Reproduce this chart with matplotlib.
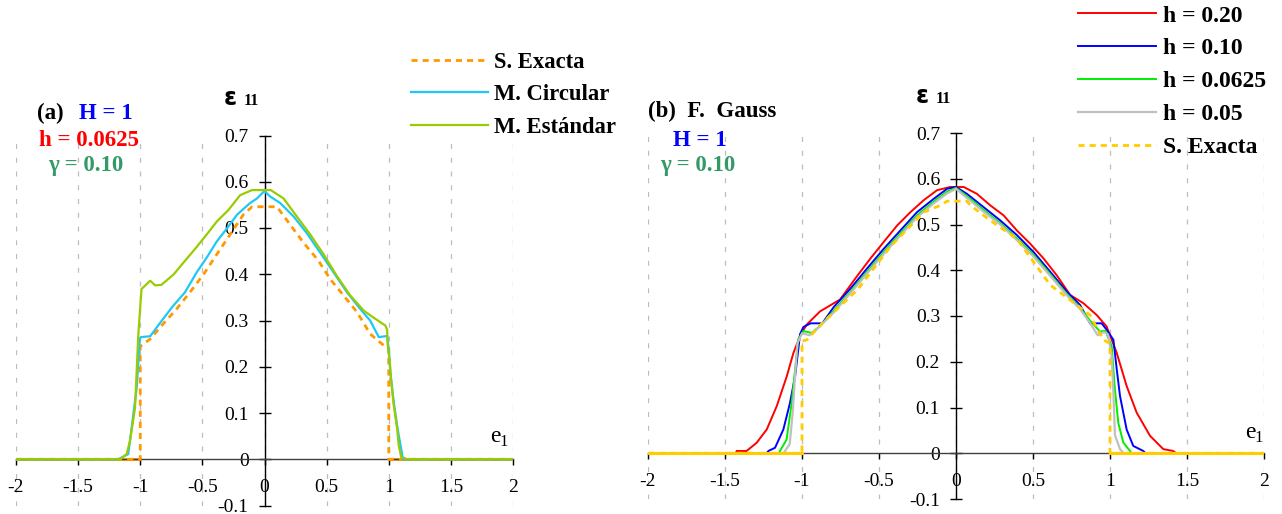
import numpy as np
import matplotlib
matplotlib.use("Agg")
import matplotlib.pyplot as plt

plt.rcParams['font.family'] = ['Liberation Serif', 'DejaVu Serif']
plt.rcParams['axes.unicode_minus'] = False

W, H = 1282, 514

# ---------------- data: panel (a) ----------------
exact_a_x = [-2, -1.0, -1.0, -0.92, -0.815, -0.707, -0.6, -0.49, -0.384, -0.277, -0.17, -0.1, 0.1, 0.207,
             0.315, 0.435, 0.53, 0.637, 0.745, 0.85, 0.96, 1.0, 1.0, 2]
exact_a_y = [0, 0, 0.244, 0.26, 0.293, 0.325, 0.361, 0.40, 0.443, 0.486, 0.529, 0.546, 0.546, 0.507,
             0.468, 0.429, 0.389, 0.354, 0.318, 0.271, 0.246, 0.24, 0, 0]

circ_a_x = [-2, -1.177, -1.097, -1.069, -1.029, -1.003, -0.995, -0.92, -0.895, -0.815, -0.734, -0.64, -0.546,
            -0.465, -0.384, -0.30, -0.22, -0.116, -0.06, 0, 0.046, 0.126, 0.234, 0.34, 0.45, 0.556, 0.664,
            0.77, 0.85, 0.92, 0.973, 0.987, 1.0, 1.013, 1.04, 1.067, 1.08, 1.115, 2]
circ_a_y = [0, 0, 0.011, 0.068, 0.154, 0.261, 0.264, 0.266, 0.275, 0.304, 0.332, 0.361, 0.404,
            0.436, 0.471, 0.50, 0.529, 0.554, 0.564, 0.58, 0.568, 0.554, 0.525, 0.489, 0.446, 0.404, 0.361,
            0.325, 0.30, 0.264, 0.266, 0.267, 0.238, 0.189, 0.124, 0.074, 0.052, 0.0, 0]

std_a_x = [-2, -1.163, -1.11, -1.083, -1.042, -1.016, -0.99, -0.92, -0.88, -0.83, -0.73, -0.64, -0.546,
           -0.465, -0.384, -0.29, -0.196, -0.10, 0.05, 0.153, 0.26, 0.368, 0.476, 0.583, 0.69, 0.80, 0.89,
           0.973, 0.987, 0.992, 1.008, 1.02, 1.04, 1.067, 1.08, 1.10, 1.15, 2]
std_a_y = [0, 0, 0.011, 0.039, 0.111, 0.268, 0.368, 0.386, 0.376, 0.377, 0.40, 0.429, 0.459,
           0.486, 0.514, 0.539, 0.571, 0.582, 0.582, 0.564, 0.525, 0.486, 0.443, 0.396, 0.354, 0.321, 0.304,
           0.289, 0.28, 0.246, 0.21, 0.167, 0.117, 0.067, 0.03, 0.005, 0, 0]

# ---------------- data: panel (b) ----------------
h20_x = [-2, -1.43, -1.424, -1.36, -1.294, -1.229, -1.164, -1.099, -1.056, -1.013, -0.97, -0.883, -0.753, -0.645,
         -0.555, -0.469, -0.382, -0.296, -0.21, -0.123, -0.037, 0.05, 0.136, 0.222, 0.309, 0.395, 0.482,
         0.568, 0.654, 0.741, 0.827, 0.914, 0.978, 1.044, 1.108, 1.173, 1.26, 1.346, 1.41, 1.43, 2]
h20_y = [0, 0, 0.005, 0.005, 0.023, 0.052, 0.103, 0.168, 0.219, 0.256, 0.281, 0.31, 0.336, 0.386,
         0.426, 0.462, 0.498, 0.527, 0.553, 0.575, 0.582, 0.582, 0.567, 0.542, 0.52, 0.487, 0.458,
         0.426, 0.389, 0.346, 0.328, 0.302, 0.277, 0.219, 0.147, 0.089, 0.038, 0.009, 0.005, 0, 0]

h10_x = [-2, -1.23, -1.218, -1.175, -1.121, -1.078, -1.045, -1.024, -1.013, -0.991, -0.944, -0.868, -0.793, -0.685,
         -0.577, -0.469, -0.361, -0.253, -0.145, -0.058, 0, 0.071, 0.179, 0.287, 0.395, 0.503, 0.611,
         0.72, 0.806, 0.87, 0.946, 0.978, 1.022, 1.044, 1.065, 1.108, 1.151, 1.216, 1.23, 2]
h10_y = [0, 0, 0.005, 0.012, 0.052, 0.11, 0.168, 0.227, 0.26, 0.276, 0.284, 0.284, 0.32, 0.36,
         0.404, 0.447, 0.487, 0.527, 0.556, 0.578, 0.582, 0.567, 0.538, 0.509, 0.477, 0.44, 0.397,
         0.353, 0.324, 0.284, 0.284, 0.27, 0.248, 0.183, 0.125, 0.052, 0.016, 0.005, 0, 0]

h0625_x = [-2, -1.15, -1.143, -1.1, -1.067, -1.045, -1.024, -0.991, -0.937, -0.883, -0.793, -0.685, -0.577,
           -0.469, -0.361, -0.253, -0.145, -0.058, 0, 0.071, 0.179, 0.287, 0.395, 0.503, 0.611, 0.72,
           0.806, 0.87, 0.935, 0.97, 1.011, 1.032, 1.054, 1.087, 1.13, 1.14, 2]
h0625_y = [0, 0, 0.005, 0.03, 0.11, 0.183, 0.249, 0.267, 0.263, 0.278, 0.312, 0.353, 0.397,
           0.44, 0.48, 0.52, 0.55, 0.572, 0.58, 0.562, 0.532, 0.503, 0.47, 0.434, 0.392, 0.348,
           0.318, 0.29, 0.266, 0.268, 0.234, 0.139, 0.066, 0.023, 0.005, 0, 0]

h05_x = [-2, -1.12, -1.11, -1.08, -1.06, -1.045, -1.03, -1.0, -0.95, -0.9, -0.793, -0.685, -0.577, -0.469,
         -0.361, -0.253, -0.145, -0.058, 0, 0.071, 0.179, 0.287, 0.395, 0.503, 0.611, 0.72, 0.806,
         0.87, 0.92, 0.96, 0.987, 1.011, 1.02, 1.032, 1.065, 1.09, 2]
h05_y = [0, 0, 0.005, 0.02, 0.09, 0.17, 0.24, 0.262, 0.258, 0.272, 0.308, 0.35, 0.393, 0.436,
         0.476, 0.516, 0.546, 0.568, 0.578, 0.558, 0.528, 0.5, 0.466, 0.43, 0.388, 0.345, 0.315,
         0.285, 0.258, 0.265, 0.26, 0.212, 0.15, 0.04, 0.009, 0, 0]

exact_b_x = [-2, -1, -1, -0.968, -0.87, -0.641, -0.425, -0.21, -0.1, -0.058, 0.071, 0.093, 0.222, 0.395,
             0.611, 0.741, 0.87, 0.957, 1.0, 1.0, 2]
exact_b_y = [0, 0, 0.245, 0.248, 0.284, 0.357, 0.452, 0.527, 0.542, 0.551, 0.551, 0.542, 0.509, 0.469,
             0.368, 0.335, 0.302, 0.248, 0.24, 0, 0]

xticks = [-2, -1.5, -1, -0.5, 0, 0.5, 1, 1.5, 2]
xticklabels = ['-2', '-1.5', '-1', '-0.5', '0', '0.5', '1', '1.5', '2']
yticks = [-0.1, 0, 0.1, 0.2, 0.3, 0.4, 0.5, 0.6, 0.7]
yticklabels = ['-0.1', '0', '0.1', '0.2', '0.3', '0.4', '0.5', '0.6', '0.7']

legend_a = ['S. Exacta', 'M. Circular', 'M. Estándar']
legend_b = ['h = 0.20', 'h = 0.10', 'h = 0.0625', 'h = 0.05', 'S. Exacta']

# ---------------- figure ----------------
fig = plt.figure(figsize=(W / 100, H / 100), dpi=100)


def box(l, t, r, b):
    return [l / W, 1 - b / H, (r - l) / W, (b - t) / H]


def style_axes(ax):
    ax.set_xlim(-2, 2)
    ax.set_ylim(-0.1, 0.7)
    for s in ['top', 'right']:
        ax.spines[s].set_visible(False)
    ax.spines['left'].set_position(('data', 0))
    ax.spines['bottom'].set_position(('data', 0))
    ax.spines['left'].set_linewidth(1.0)
    ax.spines['bottom'].set_linewidth(1.0)
    ax.spines['bottom'].set_color('#404040')
    ax.set_xticks(xticks)
    ax.set_xticklabels(xticklabels)
    ax.set_yticks(yticks)
    ax.set_yticklabels(yticklabels)
    ax.tick_params(axis='y', direction='inout', length=9, width=1, labelsize=14, pad=7)
    ax.tick_params(axis='x', direction='out', length=4, width=1, labelsize=14, pad=10)
    ax.grid(axis='x', color='#BDBDBD', linestyle=(0, (4, 7)), linewidth=0.9)
    ax.set_axisbelow(True)
    ax.patch.set_visible(False)


def zero_part(y):
    y = np.asarray(y, dtype=float)
    return np.where(y == 0, y, np.nan)


# panel (a)
axa = fig.add_axes(box(16, 135.5, 513, 505.5))
style_axes(axa)
la0, = axa.plot(exact_a_x, exact_a_y, color='#FF9900', lw=2.0, linestyle=(0, (2.2, 1.8)), zorder=3)
axa.plot(exact_a_x, zero_part(exact_a_y), color='#FF9900', lw=2.0, zorder=2.5)
la1, = axa.plot(circ_a_x, circ_a_y, color='#1EC8F5', lw=1.6, zorder=4)
la2, = axa.plot(std_a_x, std_a_y, color='#99CC00', lw=1.6, zorder=5)

# panel (b)
axb = fig.add_axes(box(648, 133, 1264, 499))
style_axes(axb)
lb0, = axb.plot(h20_x, h20_y, color='#FF0000', lw=1.4, zorder=3)
lb1, = axb.plot(h10_x, h10_y, color='#0000FF', lw=1.4, zorder=4)
lb2, = axb.plot(h0625_x, h0625_y, color='#00EE00', lw=1.4, zorder=5)
lb3, = axb.plot(h05_x, h05_y, color='#C0C0C0', lw=1.6, zorder=6)
lb4, = axb.plot(exact_b_x, exact_b_y, color='#FFCC00', lw=2.0, linestyle=(0, (2.2, 1.8)), zorder=7)
axb.plot(exact_b_x, zero_part(exact_b_y), color='#FFCC00', lw=2.2, zorder=7)

# legends
leg_font_a = {'family': 'Liberation Serif', 'weight': 'bold', 'size': 16.3}
leg_font_b = {'family': 'Liberation Serif', 'weight': 'bold', 'size': 17}
fig.legend([la0, la1, la2], legend_a, loc='upper left', bbox_to_anchor=(411 / W, 1 - 52 / H),
           frameon=False, borderpad=0, borderaxespad=0, handlelength=3.4, handletextpad=0.28,
           labelspacing=0.5, prop=leg_font_a)
fig.legend([lb0, lb1, lb2, lb3, lb4], legend_b, loc='upper left', bbox_to_anchor=(1078 / W, 1 - 5 / H),
           frameon=False, borderpad=0, borderaxespad=0, handlelength=3.3, handletextpad=0.28,
           labelspacing=0.48, prop=leg_font_b)


def ftext(px, py, s, **kw):
    fig.text(px / W, 1 - py / H, s, va='baseline', **kw)


bold = dict(fontsize=16.5, fontweight='bold', family='Liberation Serif')
# panel (a) annotations
ftext(37, 119, '(a)', color='black', **bold)
ftext(79, 119, 'H = 1', color='#0000FF', **bold)
ftext(39, 146, 'h = 0.0625', color='#FF0000', **bold)
ftext(48, 171, 'γ = 0.10', color='#339966', **bold)
# panel (b) annotations
ftext(648, 117, '(b)  F.  Gauss', color='black', **bold)
ftext(673, 146, 'H = 1', color='#0000FF', **bold)
ftext(660, 171, 'γ = 0.10', color='#339966', **bold)

# epsilon labels
for ex, ey in [(224, 105), (916, 103)]:
    ftext(ex, ey, 'ε', color='black', fontsize=17, fontweight='bold', family='DejaVu Sans')
    ftext(ex + 20, ey, '11', color='black', fontsize=11.5, fontweight='bold', family='Liberation Serif')

# e1 labels
for ex, ey in [(490, 442), (1245, 438)]:
    ftext(ex, ey, 'e', color='black', fontsize=17, family='Liberation Serif')
    ftext(ex + 9, ey + 4, '1', color='black', fontsize=12, family='Liberation Serif')

fig.savefig('out.png', dpi=100)
